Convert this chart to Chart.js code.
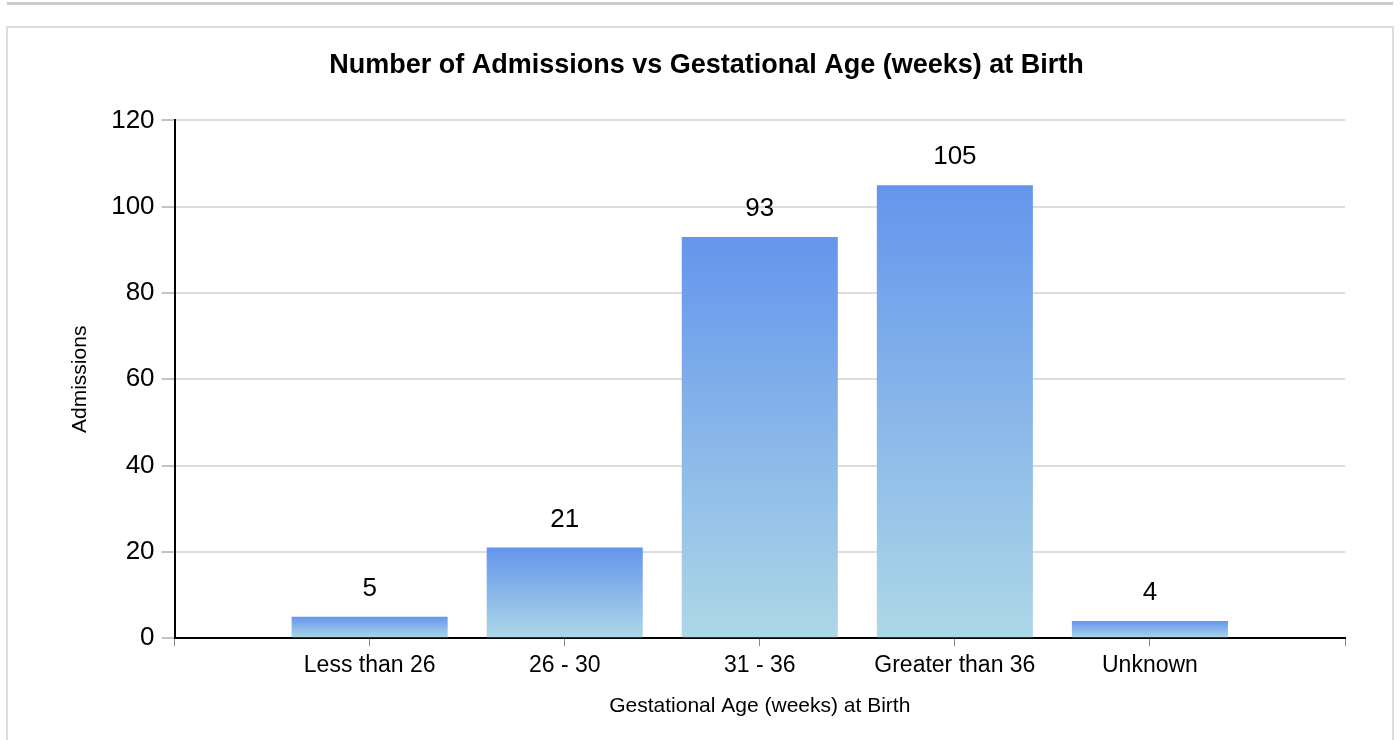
<!DOCTYPE html>
<html>
<head>
<meta charset="utf-8">
<script src="https://cdn.jsdelivr.net/npm/chart.js@4/dist/chart.umd.min.js"></script>
<style>
    body { margin: 0; background: #fff; font-family: "Liberation Sans", Arial, sans-serif; }
    .top-rule { position: absolute; left: 7px; top: 2px; width: 1386px; height: 3px; background: #cccccc; }
    .card { position: absolute; left: 6px; top: 26px; width: 1384px; height: 730px; border: 2px solid #dddddd; background: #fff; }
    .chart-box { position: absolute; left: 0; top: 0; width: 1384px; height: 712px; }
</style>
</head>
<body>
<div class="top-rule"></div>
<div class="card">
    <div class="chart-box"><canvas id="chart-ga"></canvas></div>
</div>
<script>
const CATEGORIES = ["Less than 26", "26 - 30", "31 - 36", "Greater than 36", "Unknown"];
const ADMISSIONS = [5, 21, 93, 105, 4];
const Y_MAX = 120;
const Y_STEP = 20;

const TITLE = "Number of Admissions vs Gestational Age (weeks) at Birth";
const X_TITLE = "Gestational Age (weeks) at Birth";
const Y_TITLE = "Admissions";

const FONT = "'Liberation Sans', Arial, sans-serif";

// empty slot on each side, like the original
var labels = [""].concat(CATEGORIES, [""]);
var values = [null].concat(ADMISSIONS, [null]);

function barGradient(ctx) {
    var chart = ctx.chart;
    if (!chart.chartArea || ctx.raw == null) return "#6495ED";
    var y = chart.scales.y;
    var top = y.getPixelForValue(ctx.raw);
    var base = y.getPixelForValue(0);
    if (!isFinite(top) || !isFinite(base) || top === base) return "#6495ED";
    var g = chart.ctx.createLinearGradient(0, top, 0, base);
    g.addColorStop(0, "#6495ED");
    g.addColorStop(1, "#ADD8E6");
    return g;
}

var valueLabels = {
    id: "valueLabels",
    afterDatasetsDraw: function(chart) {
        var c = chart.ctx;
        var meta = chart.getDatasetMeta(0);
        c.save();
        c.font = "26px " + FONT;
        c.fillStyle = "#000";
        c.textAlign = "center";
        c.textBaseline = "middle";
        meta.data.forEach(function(bar, i) {
            var v = values[i];
            if (v == null) return;
            c.fillText(String(v), bar.x, bar.y - 28);
        });
        c.restore();
    }
};

document.addEventListener("DOMContentLoaded", function() {
    var ctx = document.getElementById("chart-ga").getContext("2d");
    new Chart(ctx, {
        type: "bar",
        data: {
            labels: labels,
            datasets: [{
                label: Y_TITLE,
                data: values,
                backgroundColor: barGradient,
                borderWidth: 0,
                barPercentage: 0.8,
                categoryPercentage: 1
            }]
        },
        options: {
            responsive: true,
            maintainAspectRatio: false,
            animation: false,
            layout: { padding: { left: 60, right: 47, top: 8, bottom: 21 } },
            plugins: {
                legend: { display: false },
                tooltip: { enabled: false },
                title: {
                    display: true,
                    text: TITLE,
                    color: "#000",
                    font: { family: FONT, size: 27, weight: "bold" },
                    padding: { top: 13, bottom: 39 }
                }
            },
            scales: {
                x: {
                    offset: false,
                    grid: { display: true, offset: false, drawOnChartArea: false, drawTicks: true, tickLength: 8, tickColor: "#888", tickWidth: 1 },
                    border: { display: true, color: "#000", width: 2 },
                    ticks: { color: "#000", font: { family: FONT, size: 23 }, padding: 6, maxRotation: 0, autoSkip: false },
                    title: { display: true, text: X_TITLE, color: "#000", font: { family: FONT, size: 21 }, padding: { top: 8, bottom: 0 } }
                },
                y: {
                    min: 0,
                    max: Y_MAX,
                    grid: { color: "#dddddd", lineWidth: 2, tickLength: 13, tickColor: "#888", tickWidth: 1 },
                    border: { display: true, color: "#000", width: 2 },
                    ticks: { stepSize: Y_STEP, color: "#000", font: { family: FONT, size: 26 }, padding: 7 },
                    title: { display: true, text: Y_TITLE, color: "#000", font: { family: FONT, size: 21 }, padding: { top: 0, bottom: 11 } }
                }
            }
        },
        plugins: [valueLabels]
    });
});
</script>
</body>
</html>
